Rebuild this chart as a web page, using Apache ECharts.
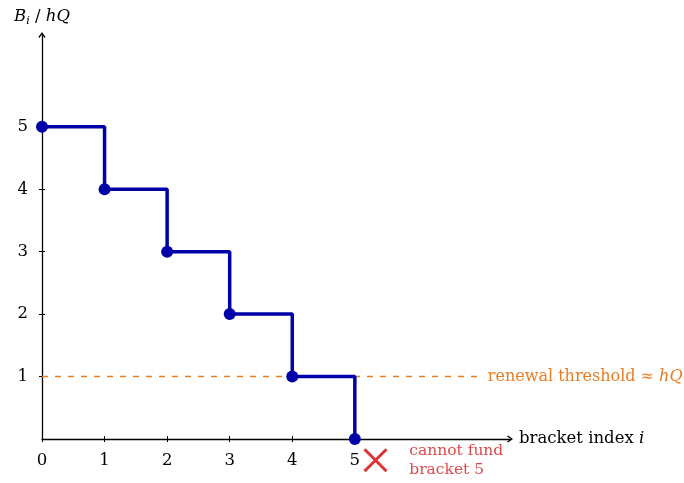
<!DOCTYPE html>
<html><head><meta charset="utf-8">
<script src="https://cdn.jsdelivr.net/npm/echarts@6/dist/echarts.min.js"></script>
<style>html,body{margin:0;padding:0;background:#fff}#c{width:684px;height:483px}</style>
</head><body><div id="c"></div>
<script>
const brackets = [0, 1, 2, 3, 4, 5];
const budget = [5, 4, 3, 2, 1, 0];
const xTicks = [0, 1, 2, 3, 4, 5];
const yTicks = [1, 2, 3, 4, 5];
const thresholdX = [0, 7.03];
const thresholdY = [1, 1];
const thresholdLabel = 'renewal threshold ≈ {it|hQ}';
const failPoint = [5.33, -0.34];
const failTextPoint = [5.87, -0.35];
const failText = 'cannot fund\nbracket 5';

const font = 'DejaVu Serif';
const fs = 16.5;
const arrow = 'path://M5,0L10,7L8.6,8.4L5,3L1.4,8.4L0,7Z';
const axisBase = (min, max) => ({ type: 'value', min, max, splitLine: { show: false } });
const chart = echarts.init(document.getElementById('c'));
chart.setOption({
  animation: false,
  textStyle: { fontFamily: font },
  grid: { left: 42, right: 174, top: 35, bottom: 44 },
  xAxis: [{
    ...axisBase(0, 7.48),
    name: 'bracket index {it|i}', nameLocation: 'end', nameGap: 9,
    nameTextStyle: { color: '#000', fontSize: fs, fontFamily: font, verticalAlign: 'middle',
      rich: { it: { fontStyle: 'italic', fontSize: fs, fontFamily: font } } },
    axisLine: { onZero: false, symbol: ['none', arrow], symbolSize: [9, 6], symbolOffset: [0, 0], lineStyle: { color: '#000', width: 1.3 } },
    axisTick: { customValues: xTicks, length: 3, lineStyle: { color: '#000' } },
    axisLabel: { customValues: xTicks, color: '#000', fontSize: fs, margin: 13, fontFamily: font }
  }, {
    ...axisBase(0, 7.48), position: 'bottom',
    axisLine: { show: false }, axisLabel: { show: false },
    axisTick: { customValues: xTicks, inside: true, length: 3, lineStyle: { color: '#000' } }
  }],
  yAxis: [{
    ...axisBase(0, 6.47),
    name: '{it|B}{sub|i} / {it|hQ}', nameLocation: 'end', nameGap: 8,
    nameTextStyle: { color: '#000', fontSize: fs, fontFamily: font, align: 'center',
      rich: { it: { fontStyle: 'italic', fontSize: fs, fontFamily: font }, sub: { fontStyle: 'italic', fontSize: 11, verticalAlign: 'bottom', padding: [9, 0, 0, 0], fontFamily: font } } },
    axisLine: { onZero: false, symbol: ['none', arrow], symbolSize: [9, 6], symbolOffset: [0, 0], lineStyle: { color: '#000', width: 1.3 } },
    axisTick: { customValues: yTicks, length: 3, lineStyle: { color: '#000' } },
    axisLabel: { customValues: yTicks, color: '#000', fontSize: fs, margin: 14, fontFamily: font }
  }, {
    ...axisBase(0, 6.47), position: 'left',
    axisLine: { show: false }, axisLabel: { show: false },
    axisTick: { customValues: yTicks, inside: true, length: 3, lineStyle: { color: '#000' } }
  }],
  series: [
    {
      type: 'line', data: thresholdX.map((x, i) => [x, thresholdY[i]]),
      symbol: 'none', z: 1,
      lineStyle: { color: '#e87d22', width: 1.5, type: [6, 7] },
      endLabel: { show: true, formatter: thresholdLabel, color: '#e87d22', fontSize: 16, distance: 6, fontFamily: font,
        rich: { it: { fontStyle: 'italic', fontSize: 16, color: '#e87d22', fontFamily: font } } }
    },
    {
      type: 'line', step: 'end', data: brackets.map((x, i) => [x, budget[i]]),
      symbol: 'circle', symbolSize: 12, z: 3, clip: false,
      lineStyle: { color: '#0000a8', width: 3.5 },
      itemStyle: { color: '#0000a8' }
    },
    {
      type: 'scatter', data: [failPoint], clip: false,
      symbol: 'path://M0,0L10,10M10,0L0,10', symbolSize: 22,
      itemStyle: { color: 'none', borderColor: '#d40000', borderWidth: 3 }
    },
    {
      type: 'scatter', data: [failTextPoint], clip: false, symbolSize: 0,
      label: { show: true, position: 'right', distance: 0, formatter: failText, color: '#d41a1a', fontSize: 15.5, lineHeight: 19, align: 'left', fontFamily: font }
    }
  ]
});
</script></body></html>
